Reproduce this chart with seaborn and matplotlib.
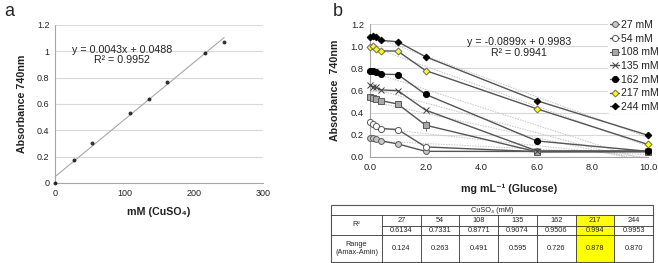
import numpy as np
import pandas as pd
import matplotlib
matplotlib.use("Agg")
import matplotlib.pyplot as plt
import seaborn as sns
from matplotlib.patches import Rectangle

sns.set_theme(style="white")
plt.rcParams["font.family"] = ["Liberation Sans", "DejaVu Sans"]

# ---------------- data: panel a ----------------
cuso4_mM = [0, 27, 54, 108, 135, 162, 217, 244]
absorb_a = [0.0, 0.175, 0.306, 0.532, 0.640, 0.770, 0.990, 1.071]

# ---------------- data: panel b ----------------
glucose = [0, 0.1, 0.2, 0.4, 1, 2, 6, 10]
abs_27 = [0.175, 0.175, 0.163, 0.145, 0.118, 0.051, 0.050, 0.050]
abs_54 = [0.314, 0.296, 0.284, 0.257, 0.248, 0.091, 0.048, 0.051]
abs_108 = [0.538, 0.529, 0.520, 0.508, 0.478, 0.287, 0.047, 0.047]
abs_135 = [0.650, 0.635, 0.629, 0.605, 0.599, 0.423, 0.055, 0.055]
abs_162 = [0.777, 0.777, 0.771, 0.747, 0.744, 0.565, 0.145, 0.051]
abs_217 = [0.991, 1.004, 0.976, 0.958, 0.955, 0.780, 0.435, 0.113]
abs_244 = [1.079, 1.094, 1.079, 1.052, 1.040, 0.904, 0.508, 0.196]
err_108 = [0, 0, 0, 0, 0, 0.05, 0, 0]
series_labels = ["27 mM", "54 mM", "108 mM", "135 mM", "162 mM", "217 mM", "244 mM"]

# ---------------- data: table ----------------
table_conc = ["27", "54", "108", "135", "162", "217", "244"]
table_r2 = ["0.6134", "0.7331", "0.8771", "0.9074", "0.9506", "0.994", "0.9953"]
table_range = ["0.124", "0.263", "0.491", "0.595", "0.726", "0.878", "0.870"]
highlight_conc = "217"

W, H = 658, 263
fig = plt.figure(figsize=(W / 100, H / 100), dpi=100)

def fx(px):
    return px / W

def fy(py):
    return 1 - py / H

GRID = "#d9d9d9"
SPINE = "#a6a6a6"
TXT = "#222222"

# ================= panel a =================
ax_a = fig.add_axes([fx(55), fy(183), fx(263) - fx(55), fy(25) - fy(183)])
sns.regplot(x=cuso4_mM, y=absorb_a, ax=ax_a, ci=None, color="black",
            scatter_kws=dict(s=8, linewidths=0, zorder=3, clip_on=False),
            line_kws=dict(color="#a8a8a8", lw=0.8, zorder=2))
ax_a.set_xlim(0, 300)
ax_a.set_ylim(0, 1.2)
ax_a.set_xticks([0, 100, 200, 300])
ax_a.set_yticks([0, 0.2, 0.4, 0.6, 0.8, 1.0, 1.2])
ax_a.set_yticklabels(["0", "0.2", "0.4", "0.6", "0.8", "1", "1.2"])
ax_a.yaxis.grid(True, color=GRID, lw=0.8)
ax_a.set_axisbelow(True)
for s in ["top", "right"]:
    ax_a.spines[s].set_visible(False)
for s in ["left", "bottom"]:
    ax_a.spines[s].set_color(SPINE)
    ax_a.spines[s].set_linewidth(0.8)
ax_a.tick_params(axis="both", length=0, labelsize=6.5, colors=TXT, pad=4)
ax_a.set_xlabel("mM (CuSO₄)", fontsize=7.7, fontweight="bold", labelpad=7, color=TXT)
ax_a.set_ylabel("Absorbance 740nm", fontsize=7.7, fontweight="bold", labelpad=7, color=TXT)
ax_a.text(97, 0.972, "y = 0.0043x + 0.0488\nR² = 0.9952", fontsize=7.7,
          ha="center", va="center", linespacing=1.05, color=TXT)

# ================= panel b =================
ax_b = fig.add_axes([fx(370), fy(157), fx(648) - fx(370), fy(24) - fy(157)])
series = [abs_27, abs_54, abs_108, abs_135, abs_162, abs_217, abs_244]
styles = [
    dict(marker="o", markerfacecolor="#c8c8c8", markeredgecolor="#5a5a5a", markersize=4.2),
    dict(marker="o", markerfacecolor="white", markeredgecolor="#5a5a5a", markersize=4.4),
    dict(marker="s", markerfacecolor="#a8a8a8", markeredgecolor="#5a5a5a", markersize=4.2),
    dict(marker="x", markerfacecolor="#404040", markeredgecolor="#404040", markersize=4.8),
    dict(marker="o", markerfacecolor="black", markeredgecolor="black", markersize=4.4),
    dict(marker="D", markerfacecolor="#ffff00", markeredgecolor="#6a6a6a", markersize=3.5),
    dict(marker="D", markerfacecolor="black", markeredgecolor="black", markersize=3.4),
]
# dotted linear trend lines
for vals in series:
    sns.regplot(x=glucose, y=vals, ax=ax_b, scatter=False, ci=None,
                line_kws=dict(color="#c4c4c4", lw=0.7, ls=(0, (1.5, 1.2)), zorder=1))
ax_b.errorbar(glucose, abs_108, yerr=err_108, fmt="none", ecolor="#707070",
              elinewidth=0.7, zorder=2)
for vals, lab, st in zip(series, series_labels, styles):
    sns.lineplot(x=glucose, y=vals, ax=ax_b, color="#555555", lw=1.0,
                 label=lab, clip_on=False, zorder=3, markeredgewidth=0.7, **st)
ax_b.set_xlim(0, 10)
ax_b.set_ylim(0, 1.2)
ax_b.set_xticks([0, 2, 4, 6, 8, 10])
ax_b.set_xticklabels(["0.0", "2.0", "4.0", "6.0", "8.0", "10.0"])
ax_b.set_yticks([0, 0.2, 0.4, 0.6, 0.8, 1.0, 1.2])
ax_b.set_yticklabels(["0.0", "0.2", "0.4", "0.6", "0.8", "1.0", "1.2"])
ax_b.yaxis.grid(True, color=GRID, lw=0.8)
ax_b.set_axisbelow(True)
for s in ["top", "right"]:
    ax_b.spines[s].set_visible(False)
for s in ["left", "bottom"]:
    ax_b.spines[s].set_color(SPINE)
    ax_b.spines[s].set_linewidth(0.8)
ax_b.tick_params(axis="both", length=0, labelsize=6.7, colors=TXT, pad=4.5)
ax_b.set_xlabel("mg mL⁻¹ (Glucose)", fontsize=7.7, fontweight="bold", labelpad=8, color=TXT)
ax_b.set_ylabel("Absorbance  740nm", fontsize=7.7, fontweight="bold", labelpad=8, color=TXT)
ax_b.text(5.36, 0.988, "y = -0.0899x + 0.9983\nR² = 0.9941", fontsize=7.7,
          ha="center", va="center", linespacing=1.05, color=TXT)
leg = ax_b.legend(loc="upper left", bbox_to_anchor=(fx(608), fy(18)),
                  bbox_transform=fig.transFigure, fontsize=7.5, frameon=True,
                  facecolor="white", edgecolor="none", framealpha=1,
                  handlelength=0.9, handletextpad=0.12, labelspacing=0.35,
                  borderpad=0.2, borderaxespad=0)
for t in leg.get_texts():
    t.set_color(TXT)
leg.set_zorder(5)

# ================= panel labels =================
fig.text(fx(9), fy(12), "a", fontsize=13, ha="center", va="center")
fig.text(fx(338), fy(12), "b", fontsize=13, ha="center", va="center")

# ================= table =================
ax_t = fig.add_axes([0, 0, 1, 1], zorder=-1)
ax_t.set_xlim(0, W)
ax_t.set_ylim(H, 0)
ax_t.axis("off")
ax_t.patch.set_alpha(0)
t_left, t_right, t_first = 331, 653, 382
rows_y = [205, 215, 225.5, 235, 262]
ncol = len(table_conc)
cw = (t_right - t_first) / ncol
col_x = [t_first + i * cw for i in range(ncol + 1)]
LC = "#333333"
lw = 0.6
hi = table_conc.index(highlight_conc)
ax_t.add_patch(Rectangle((col_x[hi], rows_y[1]), cw, rows_y[4] - rows_y[1],
                         facecolor="#ffff00", edgecolor="none"))
ax_t.add_patch(Rectangle((t_left, rows_y[0]), t_right - t_left, rows_y[4] - rows_y[0],
                         facecolor="none", edgecolor="#555555", lw=0.8))
ax_t.plot([t_left, t_right], [rows_y[1]] * 2, color=LC, lw=lw)
ax_t.plot([t_left, t_right], [rows_y[3]] * 2, color=LC, lw=lw)
ax_t.plot([t_first, t_right], [rows_y[2]] * 2, color=LC, lw=lw)
for xv in col_x[:-1]:
    ax_t.plot([xv, xv], [rows_y[1], rows_y[4]], color=LC, lw=lw)
tfs = 5.3
ax_t.text((t_left + t_right) / 2, (rows_y[0] + rows_y[1]) / 2, "CuSO₄ (mM)",
          fontsize=tfs, ha="center", va="center")
ax_t.text((t_left + t_first) / 2, (rows_y[1] + rows_y[3]) / 2, "R²",
          fontsize=tfs, ha="center", va="center")
ax_t.text((t_left + t_first) / 2, (rows_y[3] + rows_y[4]) / 2, "Range\n(Amax-Amin)",
          fontsize=tfs, ha="center", va="center", linespacing=1.2)
for i in range(ncol):
    cx = col_x[i] + cw / 2
    ax_t.text(cx, (rows_y[1] + rows_y[2]) / 2, table_conc[i], fontsize=tfs, ha="center", va="center")
    ax_t.text(cx, (rows_y[2] + rows_y[3]) / 2, table_r2[i], fontsize=tfs, ha="center", va="center")
    ax_t.text(cx, (rows_y[3] + rows_y[4]) / 2, table_range[i], fontsize=tfs, ha="center", va="center")

fig.savefig("out.png", dpi=100)
